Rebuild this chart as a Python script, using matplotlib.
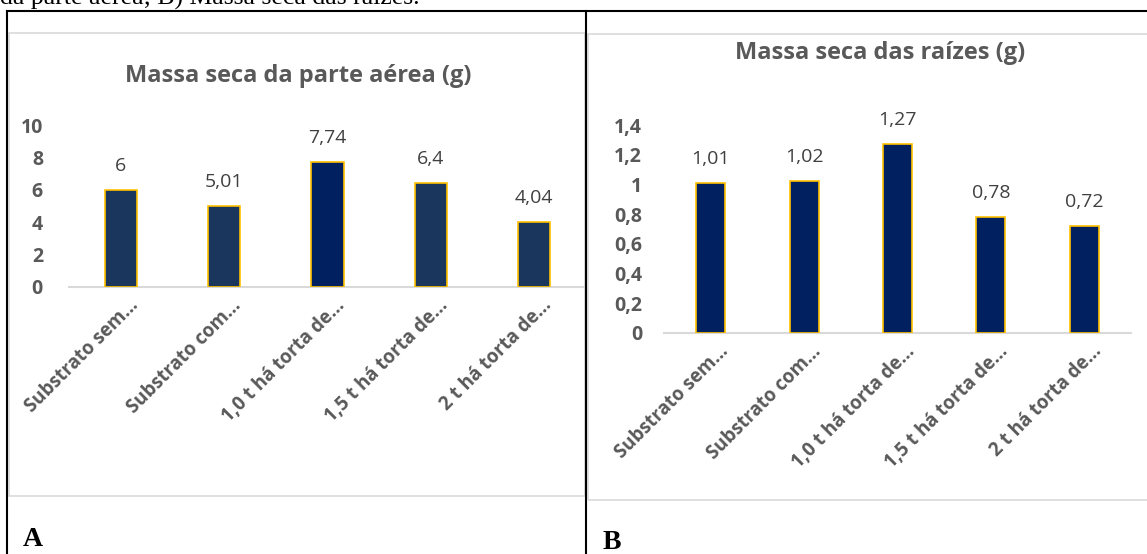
import matplotlib
matplotlib.use('Agg')
import matplotlib.pyplot as plt
from matplotlib.lines import Line2D
from matplotlib.patches import Rectangle
from matplotlib.transforms import ScaledTranslation

# dados
categorias = ["Substrato sem…", "Substrato com…", "1,0 t há torta de…",
              "1,5 t há torta de…", "2 t há torta de…"]
massa_aerea = [6, 5.01, 7.74, 6.4, 4.04]
massa_raizes = [1.01, 1.02, 1.27, 0.78, 0.72]
ticks_aerea = [0, 2, 4, 6, 8, 10]
ticks_raizes = [0, 0.2, 0.4, 0.6, 0.8, 1.0, 1.2, 1.4]

W, H = 1147, 554
CINZA = '#595959'
FONTE = 'Open Sans'


def fx(x):
    return x / W


def fy(y):
    return 1 - y / H


def br(v):
    # número com vírgula decimal, como no Excel
    s = f"{v:.2f}".rstrip('0').rstrip('.')
    return s.replace('.', ',')


def painel(fig, rect, valores, ticks, cores, ymax, pad_y):
    ax = fig.add_axes(rect)
    x = list(range(len(valores)))
    ax.bar(x, valores, width=0.31, color=cores, edgecolor='#FFC000', linewidth=1.2, zorder=3)
    ax.set_xlim(-0.5, len(valores) - 0.5)
    ax.set_ylim(0, ymax)
    for s in ['top', 'right', 'left']:
        ax.spines[s].set_visible(False)
    ax.spines['bottom'].set_color('#D9D9D9')
    ax.spines['bottom'].set_linewidth(1.5)
    ax.set_yticks(ticks)
    ax.set_yticklabels([br(t) for t in ticks], fontsize=14, fontweight='bold',
                       color=CINZA, family=FONTE)
    ax.tick_params(axis='y', length=0, pad=pad_y)
    ax.set_xticks(x)
    ax.set_xticklabels(categorias, rotation=45, ha='right', va='baseline',
                       rotation_mode='anchor', fontsize=13.5, fontweight='bold',
                       color=CINZA, family=FONTE)
    ax.tick_params(axis='x', length=0, pad=19 * 0.72)
    desloc = ScaledTranslation(18 / 100, 0, fig.dpi_scale_trans)
    for lbl in ax.get_xticklabels():
        lbl.set_transform(lbl.get_transform() + desloc)
    for i, v in enumerate(valores):
        ax.annotate(br(v), (i, v), xytext=(0, 24), textcoords='offset pixels',
                    ha='center', va='center', fontsize=14, color='#404040', family=FONTE)
    ax.patch.set_alpha(0)
    return ax


fig = plt.figure(figsize=(W / 100, H / 100), dpi=100)

# molduras dos gráficos (cinza claro)
fig.add_artist(Rectangle((fx(9), fy(496)), (585 - 9) / W, (496 - 33) / H,
                         transform=fig.transFigure, fill=False, edgecolor='#D9D9D9', lw=1.2))
fig.add_artist(Rectangle((fx(588), fy(500)), (1160 - 588) / W, (500 - 34) / H,
                         transform=fig.transFigure, fill=False, edgecolor='#D9D9D9', lw=1.2))

# A) parte aérea
cores_a = ['#1A365D', '#1A365D', '#002060', '#1A365D', '#1A365D']
painel(fig, [fx(69), fy(287), 517 / W, 162 / H], massa_aerea, ticks_aerea,
       cores_a, 10, 26 * 0.72)
fig.text(fx(298), fy(76), "Massa seca da parte aérea (g)", ha='center', va='center',
         fontsize=17, fontweight='bold', color=CINZA, family=FONTE)

# B) raízes
cores_b = ['#002060'] * 5
painel(fig, [fx(664), fy(333), 467 / W, 208 / H], massa_raizes, ticks_raizes,
       cores_b, 1.4, 22 * 0.72)
fig.text(fx(880), fy(53), "Massa seca das raízes (g)", ha='center', va='center',
         fontsize=17, fontweight='bold', color=CINZA, family=FONTE)

# linhas da tabela do documento
for xs, ys in [([7, W], [11, 11]), ([7, 7], [11, H]), ([586, 586], [11, H])]:
    fig.add_artist(Line2D([fx(v) for v in xs], [fy(v) for v in ys],
                          transform=fig.transFigure, color='black', lw=1.5))

# legenda do documento (cortada no topo) e letras dos painéis
fig.text(0, fy(5), "da parte aérea; B) Massa seca das raízes.", ha='left', va='baseline',
         fontsize=18.5, family='Liberation Serif', color='black')
fig.text(fx(23), fy(546), "A", ha='left', va='baseline', fontsize=20,
         fontweight='bold', family='Liberation Serif')
fig.text(fx(603), fy(549), "B", ha='left', va='baseline', fontsize=20,
         fontweight='bold', family='Liberation Serif')

fig.savefig('out.png', dpi=100)
